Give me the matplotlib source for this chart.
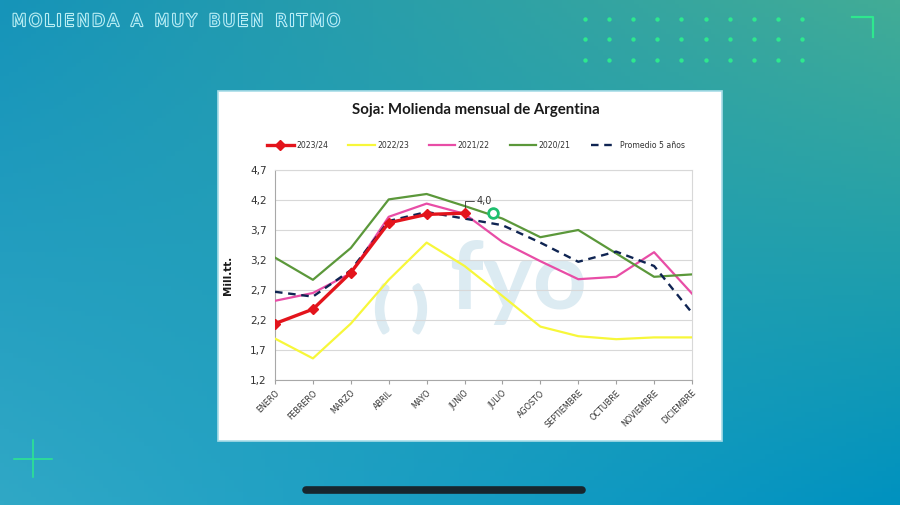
import numpy as np
import matplotlib
matplotlib.use("Agg")
import matplotlib.pyplot as plt
import matplotlib.patheffects as pe
from matplotlib.patches import Rectangle
from matplotlib.ticker import FixedLocator, FuncFormatter

# Data (Mill. t)
months = ['ENERO', 'FEBRERO', 'MARZO', 'ABRIL', 'MAYO', 'JUNIO', 'JULIO',
          'AGOSTO', 'SEPTIEMBRE', 'OCTUBRE', 'NOVIEMBRE', 'DICIEMBRE']
s2324 = [2.14, 2.38, 2.99, 3.82, 3.96, 3.98]
s2223 = [1.89, 1.56, 2.14, 2.87, 3.49, 3.10, 2.60, 2.09, 1.93, 1.88, 1.91, 1.91]
s2122 = [2.52, 2.65, 2.98, 3.92, 4.14, 3.97, 3.50, 3.18, 2.88, 2.92, 3.33, 2.64]
s2021 = [3.24, 2.87, 3.40, 4.21, 4.30, 4.10, 3.89, 3.58, 3.70, 3.31, 2.92, 2.96]
prom5 = [2.67, 2.59, 3.03, 3.85, 4.00, 3.89, 3.78, 3.49, 3.17, 3.34, 3.10, 2.32]
yticks = [1.2, 1.7, 2.2, 2.7, 3.2, 3.7, 4.2, 4.7]

W, H = 900, 505
fig = plt.figure(figsize=(9, 5.05), dpi=100)

# background slide with gradient
bg = fig.add_axes([0, 0, 1, 1])
bg.set_xlim(0, W)
bg.set_ylim(H, 0)
bg.axis('off')
tl = np.array([22, 148, 185]); tr = np.array([66, 172, 150])
bl = np.array([48, 168, 198]); br = np.array([0, 146, 192])
u = np.linspace(0, 1, 200)[None, :, None]
v = np.linspace(0, 1, 120)[:, None, None]
grad = (tl * (1 - u) * (1 - v) + tr * u * (1 - v) + bl * (1 - u) * v + br * u * v) / 255
bg.imshow(grad, extent=[0, W, H, 0], aspect='auto', zorder=0)

green = '#2ee88e'
dx = np.linspace(585, 802, 10)
dy = [19, 39, 60]
gx, gy = np.meshgrid(dx, dy)
bg.scatter(gx.ravel(), gy.ravel(), s=10, color=green, lw=0, zorder=2)
bg.plot([852, 873, 873], [17, 17, 37], color=green, lw=1.6, zorder=2)
bg.plot([14, 52], [459, 459], color=green, lw=1.1, zorder=2)
bg.plot([33, 33], [440, 477], color=green, lw=1.1, zorder=2)
bg.plot([306, 582], [490, 490], color='#17262e', lw=5.5, solid_capstyle='round', zorder=2)

# white chart card
bg.add_patch(Rectangle((218, 91), 504, 350, facecolor='white', edgecolor='#a9dde8', lw=1.2, zorder=1))
bg.text(476, 110, 'Soja: Molienda mensual de Argentina', ha='center', va='center',
        fontsize=10.8, fontweight='bold', family='Lato', color='#1a1a1a', zorder=3)
# faint logo watermark
wm = '#dcebf2'
bg.text(401, 309, '(  )', ha='center', va='center', fontsize=36, family='Lato',
        fontweight='bold', color=wm, zorder=2,
        path_effects=[pe.withStroke(linewidth=3, foreground=wm)])
bg.text(518, 282, 'fyo', ha='center', va='center', fontsize=68, family='Lato',
        fontweight='bold', color=wm, zorder=2)

# slide title with outlined, spaced letters
title = 'MOLIENDA A MUY BUEN RITMO'
fig.canvas.draw()
rend = fig.canvas.get_renderer()
kw = dict(fontsize=12, fontweight='normal', family='DejaVu Sans', va='center', ha='left',
          color='#1d98ba', zorder=3,
          path_effects=[pe.withStroke(linewidth=1.6, foreground='#b9eef3')])
widths = []
for ch in title:
    if ch == ' ':
        widths.append(0)
        continue
    t = bg.text(0, 0, ch, **kw)
    widths.append(t.get_window_extent(rend).width)
    t.remove()
gap_word = 7
track = (328 - sum(widths) - gap_word * title.count(' ')) / (len(title) - 1)
x = 12
for ch, w in zip(title, widths):
    if ch == ' ':
        x += gap_word + track
        continue
    bg.text(x, 21, ch, **kw)
    x += w + track

# main chart
ax = fig.add_axes([275 / W, 1 - 380 / H, 417 / W, 210 / H])
ax.set_facecolor('none')
xi = np.arange(len(months))
ax.plot(xi, s2223, color='#f7f73a', lw=1.6, label='2022/23', zorder=3)
ax.plot(xi, s2122, color='#e84da6', lw=1.6, label='2021/22', zorder=3)
ax.plot(xi, s2021, color='#5b983a', lw=1.6, label='2020/21', zorder=3)
ax.plot(xi, prom5, color='#0f2452', lw=1.7, ls=(0, (3.2, 2.4)), label='Promedio 5 años', zorder=4)
ax.plot(xi[:len(s2324)], s2324, color='#e3141c', lw=2.4, marker='D', markersize=5,
        label='2023/24', zorder=5)

ax.annotate('4,0', xy=(5, s2324[-1]), xytext=(9, 9), textcoords='offset points',
            fontsize=7, color='#333333', ha='left', va='center',
            arrowprops=dict(arrowstyle='-', color='#333333', lw=0.6,
                            connectionstyle='angle,angleA=0,angleB=90,rad=0',
                            shrinkA=0, shrinkB=4))
ax.plot([5.75], [3.98], marker='o', markersize=7, markerfacecolor='white',
        markeredgecolor='#1fbf6f', markeredgewidth=2, zorder=6)

ax.set_xlim(0, len(months) - 1)
ax.set_ylim(yticks[0], yticks[-1])
ax.yaxis.set_major_locator(FixedLocator(yticks))
ax.yaxis.set_major_formatter(FuncFormatter(lambda v, p: f'{v:.1f}'.replace('.', ',')))
ax.set_xticks(xi)
ax.set_xticklabels(months, rotation=45, ha='right', rotation_mode='anchor',
                   fontsize=5.8, color='#333333')
ax.tick_params(axis='y', labelsize=7.5, labelcolor='#333333', length=0, pad=6)
ax.tick_params(axis='x', length=3, color='#a0a0a0', pad=3)
ax.grid(axis='y', color='#d8d8d8', lw=0.8)
ax.set_axisbelow(True)
for side in ['top', 'right']:
    ax.spines[side].set_color('#d8d8d8')
for side in ['left', 'bottom']:
    ax.spines[side].set_color('#a8a8a8')
ax.set_ylabel('Mill.tt.', fontsize=7.5, fontweight='bold', color='#1a1a1a', labelpad=12)

handles, labels = ax.get_legend_handles_labels()
order = [4, 0, 1, 2, 3]
fig.legend([handles[i] for i in order], [labels[i] for i in order],
           loc='center', bbox_to_anchor=(476 / W, 1 - 145 / H), ncol=5, frameon=False,
           fontsize=5.6, handlelength=3.4, handletextpad=0.3, columnspacing=2.6,
           labelcolor='#333333')

fig.savefig('out.png', dpi=100)
